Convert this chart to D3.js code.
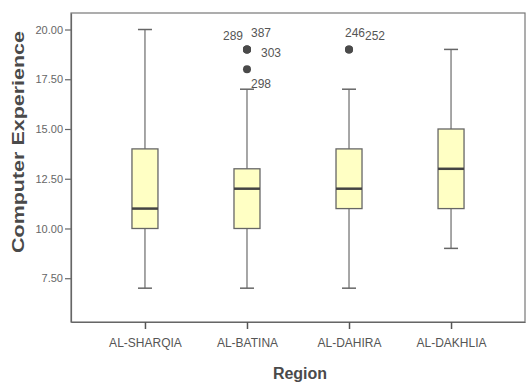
<!DOCTYPE html>
<html>
<head>
<meta charset="utf-8">
<script src="https://cdn.jsdelivr.net/npm/d3@7/dist/d3.min.js"></script>
<style>
html,body{margin:0;padding:0;background:#fff;}
svg{display:block;}
</style>
</head>
<body>
<svg id="chart" width="527" height="382"></svg>
<script>
// ---- data ----
const regions = ["AL-SHARQIA", "AL-BATINA", "AL-DAHIRA", "AL-DAKHLIA"];
const whiskerLow = [7, 7, 7, 9];
const q1 = [10, 10, 11, 11];
const median = [11, 12, 12, 13];
const q3 = [14, 13, 14, 15];
const whiskerHigh = [20, 17, 17, 19];
const outlierRegion = ["AL-BATINA", "AL-BATINA", "AL-BATINA", "AL-BATINA", "AL-DAHIRA", "AL-DAHIRA"];
const outlierValue = [19, 19, 19, 18, 19, 19];
const outlierId = ["289", "387", "303", "298", "246", "252"];
const yTicks = [7.5, 10, 12.5, 15, 17.5, 20];

// ---- layout ----
const svg = d3.select("#chart");
const L = 71, R = 525, T = 13, B = 322;
const x = d3.scalePoint().domain(regions).range([L, R]).padding(0.725);
const y = d3.scaleLinear().domain([5.3, 20.83]).range([B, T]);
const boxW = 26, capW = 14;
// label offsets (layout only) for outlier ids: [dx, dy, anchor]
const labelOffsets = [[-4, -9, "end"], [4, -12, "start"], [14, 8, "start"], [4, 19, "start"], [-4, -12, "start"], [16, -9, "start"]];

// frame
svg.append("rect").attr("x", L).attr("y", T).attr("width", R - L).attr("height", B - T)
  .attr("fill", "#fff").attr("stroke", "#777").attr("stroke-width", 1.2);

// y axis
const yAxis = svg.append("g").attr("transform", `translate(${L},0)`)
  .call(d3.axisLeft(y).tickValues(yTicks).tickFormat(d3.format(".2f")).tickSizeInner(6).tickSizeOuter(0).tickPadding(2));
yAxis.select(".domain").attr("stroke", "#666").attr("stroke-width", 1.2);
yAxis.selectAll(".tick line").attr("stroke", "#666").attr("stroke-width", 1.2);
yAxis.selectAll(".tick text").attr("fill", "#666").attr("font-family", "'Liberation Sans Narrow', Arial, sans-serif")
  .attr("font-size", 11);

// x axis
const xAxis = svg.append("g").attr("transform", `translate(0,${B})`)
  .call(d3.axisBottom(x).tickSizeInner(7).tickSizeOuter(0).tickPadding(9));
xAxis.select(".domain").attr("stroke", "#666").attr("stroke-width", 1.2);
xAxis.selectAll(".tick line").attr("stroke", "#555").attr("stroke-width", 1.5);
xAxis.selectAll(".tick text").attr("fill", "#555").attr("font-family", "'Liberation Sans Narrow', Arial, sans-serif")
  .attr("font-size", 12);

// boxes
const data = regions.map((r, i) => ({r, lo: whiskerLow[i], q1: q1[i], med: median[i], q3: q3[i], hi: whiskerHigh[i]}));
const g = svg.append("g").selectAll("g").data(data).join("g");
g.append("line").attr("x1", d => x(d.r)).attr("x2", d => x(d.r))
  .attr("y1", d => y(d.hi)).attr("y2", d => y(d.lo)).attr("stroke", "#777").attr("stroke-width", 1.3);
g.append("line").attr("x1", d => x(d.r) - capW / 2).attr("x2", d => x(d.r) + capW / 2)
  .attr("y1", d => y(d.hi)).attr("y2", d => y(d.hi)).attr("stroke", "#666").attr("stroke-width", 1.5);
g.append("line").attr("x1", d => x(d.r) - capW / 2).attr("x2", d => x(d.r) + capW / 2)
  .attr("y1", d => y(d.lo)).attr("y2", d => y(d.lo)).attr("stroke", "#666").attr("stroke-width", 1.5);
g.append("rect").attr("x", d => x(d.r) - boxW / 2).attr("width", boxW)
  .attr("y", d => y(d.q3)).attr("height", d => y(d.q1) - y(d.q3))
  .attr("fill", "#ffffc4").attr("stroke", "#666").attr("stroke-width", 1.3);
g.append("line").attr("x1", d => x(d.r) - boxW / 2).attr("x2", d => x(d.r) + boxW / 2)
  .attr("y1", d => y(d.med)).attr("y2", d => y(d.med)).attr("stroke", "#444").attr("stroke-width", 2.5);

// outliers
const outs = outlierValue.map((v, i) => ({r: outlierRegion[i], v, id: outlierId[i], off: labelOffsets[i]}));
svg.append("g").selectAll("circle").data(outs).join("circle")
  .attr("cx", d => x(d.r)).attr("cy", d => y(d.v)).attr("r", 4).attr("fill", "#4a4a4a");
svg.append("g").selectAll("text").data(outs).join("text")
  .attr("x", d => x(d.r) + d.off[0]).attr("y", d => y(d.v) + d.off[1])
  .attr("text-anchor", d => d.off[2])
  .attr("font-family", "'Liberation Sans Narrow', Arial, sans-serif").attr("font-size", 12)
  .attr("fill", "#555").text(d => d.id);

// axis titles
svg.append("text").attr("transform", `translate(24,142) rotate(-90)`)
  .attr("text-anchor", "middle").attr("font-family", "Arial, 'Liberation Sans', sans-serif")
  .attr("font-weight", "bold").attr("font-size", 16).attr("fill", "#4a4a4a")
  .attr("textLength", 222).attr("lengthAdjust", "spacingAndGlyphs")
  .text("Computer Experience");
svg.append("text").attr("x", 300).attr("y", 379)
  .attr("text-anchor", "middle").attr("font-family", "Arial, 'Liberation Sans', sans-serif")
  .attr("font-weight", "bold").attr("font-size", 16).attr("fill", "#4a4a4a")
  .text("Region");
</script>
</body>
</html>
